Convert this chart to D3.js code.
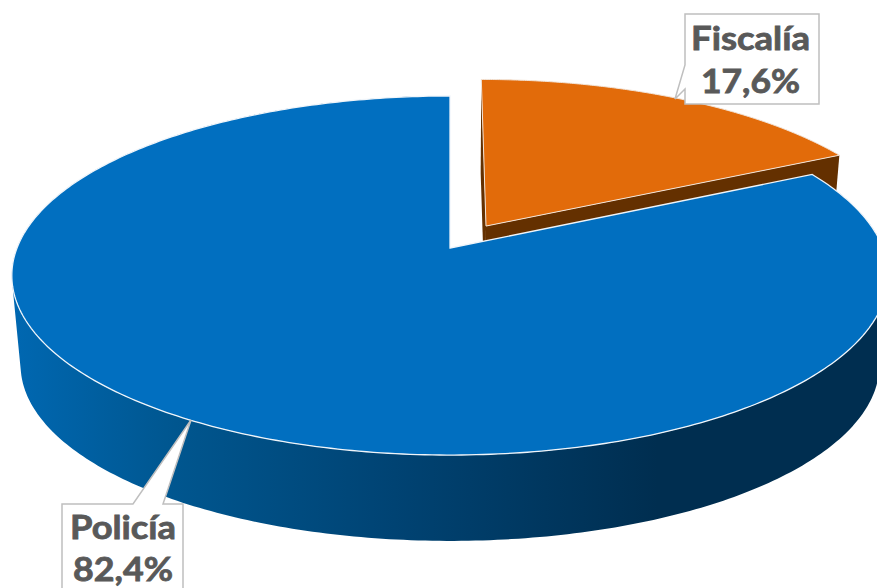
<!DOCTYPE html>
<html><head><meta charset="utf-8">
<script src="https://cdn.jsdelivr.net/npm/d3@7"></script>
<style>html,body{margin:0;padding:0;background:#fff;overflow:hidden}svg{display:block}text{font-family:Lato,"Open Sans",sans-serif;font-weight:700;fill:#595959;stroke:#595959;stroke-width:.8px}</style>
</head><body><svg id="c" width="877" height="588"></svg>
<script>
const categories = ["Fiscalía", "Policía"];
const shares = [17.6, 82.4];
const shareLabels = ["17,6%", "82,4%"];
const topColors = ["#e26b0a", "#016fc0"];
const wallStops = [[0,"#0069b4"],[0.2,"#00568f"],[0.45,"#004373"],[0.75,"#002e50"],[1,"#002e50"]];

const W = 877, H = 588;
const svg = d3.select("#c");
const apex = {x:450, y:248}, A = 433, B = 175.3, k = 0.1533;
const floorScale = 0.98, floorDrop = 90, explode = 0.15, nudgeU = 0.006;

// perspective projection of the pie's plane onto the page
function project(u, v, lower) {
  const s = lower ? floorScale : 1, d = lower ? floorDrop : 0, w = 1 + k * v;
  return [apex.x + s * A * u / w, apex.y + d - s * B * v / w];
}
const arcs = d3.pie().sort(null).value(d => d)(shares);
const offsets = arcs.map((a, i) => {
  if (i !== 0) return [0, 0];
  const m = (a.startAngle + a.endAngle) / 2;
  return [explode * Math.sin(m) + nudgeU, explode * Math.cos(m)];
});
const rim = (a, off, lower, steps = 180) => d3.range(steps + 1).map(i => {
  const t = a.startAngle + (a.endAngle - a.startAngle) * i / steps;
  return project(off[0] + Math.sin(t), off[1] + Math.cos(t), lower);
});
const line = d3.line();
const pt = (off, lower) => project(off[0], off[1], lower);

const grad = svg.append("defs").append("linearGradient").attr("id", "wall")
  .attr("gradientUnits", "userSpaceOnUse").attr("x1", 0).attr("x2", W).attr("y1", 0).attr("y2", 0);
grad.selectAll("stop").data(wallStops).join("stop").attr("offset", d => d[0]).attr("stop-color", d => d[1]);

// exploded slice: radial walls then top
const o0 = offsets[0], r0 = rim(arcs[0], o0, false), r0l = rim(arcs[0], o0, true);
const brown = "#643000";
svg.append("path").attr("fill", brown).attr("d", line([pt(o0,false), r0[r0.length-1], r0l[r0l.length-1], pt(o0,true)]) + "Z");
svg.append("path").attr("fill", brown).attr("d", line([pt(o0,false), r0[0], r0l[0], pt(o0,true)]) + "Z");
svg.append("path").attr("fill", topColors[0]).attr("stroke", "#f2e4d8").attr("stroke-width", 1)
  .attr("d", line([pt(o0,false), ...r0]) + "Z");

// main slice: outer wall as a strip of same-winding quads, then top
const o1 = offsets[1], r1 = rim(arcs[1], o1, false, 360), r1l = rim(arcs[1], o1, true, 360);
const stripPath = d3.range(r1.length - 1).map(i => {
  const q = [r1[i], r1[i+1], r1l[i+1], r1l[i]];
  return line(d3.polygonArea(q) < 0 ? q.reverse() : q) + "Z";
}).join("");
svg.append("path").attr("fill", "url(#wall)").attr("d", stripPath);
svg.append("path").attr("fill", topColors[1]).attr("stroke", "#f0f5fa").attr("stroke-width", 1.3)
  .attr("d", line([pt(o1,false), ...r1]) + "Z");

// callouts
const callouts = [
  {i:0, shape:[[685,14],[819,14],[819,104],[685,104],[685,89],[675,99],[685,65]], cx:750.5, y1:50, y2:93, w1:119, w2:99},
  {i:1, shape:[[62,504],[133,504],[191,420],[163,504],[183,504],[183,600],[62,600]], cx:123, y1:539, y2:581, w1:106, w2:100}
];
callouts.forEach(c => {
  svg.append("path").attr("d", line(c.shape) + "Z").attr("fill", "#fff").attr("stroke", "#bfbfbf").attr("stroke-width", 1.5);
  svg.append("text").attr("x", c.cx).attr("y", c.y1).attr("text-anchor", "middle").attr("font-size", 32)
    .attr("textLength", c.w1).attr("lengthAdjust", "spacingAndGlyphs").text(categories[c.i]);
  svg.append("text").attr("x", c.cx).attr("y", c.y2).attr("text-anchor", "middle").attr("font-size", 32)
    .attr("textLength", c.w2).attr("lengthAdjust", "spacingAndGlyphs").text(shareLabels[c.i]);
});
</script></body></html>
